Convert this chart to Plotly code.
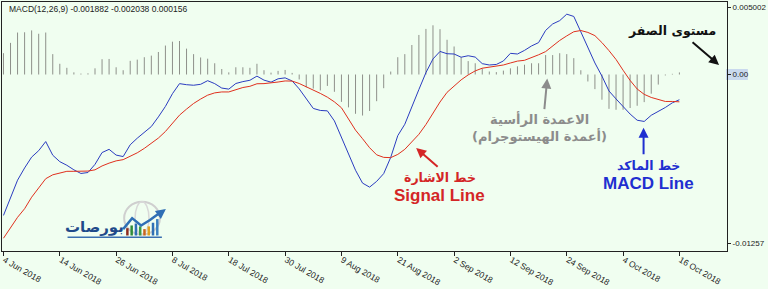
import numpy as np
import plotly.graph_objects as go

# ---- data (values in units of 1e-4) ----
hist_e4 = [15.9, 23.6, 31.3, 31.5, 32.9, 30.4, 31.3, 15.2, 8.0, 5.0,
           1.6, 0.7, 0.9, 4.6, 11.4, 11.6, 5.4, 3.2, 10.2, 11.1,
           12.9, 14.1, 16.8, 21.6, 24.5, 25.0, 19.3, 15.2, 12.7, 11.8,
           8.4, 4.1, 1.6, 5.4, 5.4, 5.0, 8.0, 3.2, 1.4, 2.7,
           3.4, 1.2, -3.7, -9.5, -10.5, -11.9, -8.5, -12.9, -20.4, -24.5,
           -29.3, -30.6, -27.2, -19.9, -10.2, 2.2, 12.9, 15.2, 22.0, 29.5,
           34.0, 36.7, 33.8, 25.9, 20.9, 12.9, 10.0, 8.4, 4.6, 2.2,
           1.8, 2.9, 4.6, 6.1, 7.3, 8.4, 8.4, 14.5, 14.5, 15.9,
           15.2, 12.2, 3.2, -5.2, -10.9, -18.8, -25.6, -26.3, -26.3, -25.0,
           -23.3, -20.6, -14.3, -7.5, -0.7, 0.5, 1.56]

macd_e4 = [-105.1, -91.5, -78.8, -69.7, -61.6, -56.8, -50.0, -60.2, -65.0, -67.7,
           -71.1, -73.8, -73.1, -67.0, -58.2, -55.8, -60.1, -61.2, -52.4, -47.5,
           -43.2, -38.8, -31.6, -23.8, -14.3, -6.8, -7.6, -8.0, -7.3, -4.6,
           -6.8, -10.1, -10.9, -6.7, -5.3, -4.3, -1.2, -4.2, -5.7, -3.2,
           -2.5, -4.8, -10.7, -18.2, -25.3, -26.8, -27.1, -34.6, -47.3, -59.9,
           -71.4, -81.0, -84.0, -79.7, -73.9, -61.8, -45.6, -37.1, -24.8, -11.2,
           1.4, 11.6, 17.2, 15.5, 15.3, 12.9, 14.0, 13.0, 8.1, 7.1,
           7.5, 10.1, 15.8, 15.3, 18.0, 21.3, 23.8, 32.9, 37.7, 40.2,
           45.0, 43.3, 31.8, 20.3, 8.6, -1.2, -12.3, -18.2, -23.7, -29.5,
           -34.1, -35.0, -30.4, -27.6, -24.6, -21.1, -18.82]

signal_e4 = [-122.1, -114.3, -106.5, -100.1, -91.5, -84.6, -77.7, -74.8, -73.5, -72.2,
             -72.2, -72.2, -72.0, -71.1, -68.2, -66.1, -64.4, -63.5, -60.9, -58.4,
             -55.1, -51.5, -47.4, -42.5, -36.8, -30.3, -25.8, -21.6, -18.3, -15.4,
             -13.7, -13.0, -13.0, -11.2, -9.7, -8.8, -6.9, -6.8, -6.4, -5.6,
             -4.8, -4.9, -6.7, -9.0, -11.9, -14.1, -16.9, -20.4, -24.8, -33.3,
             -41.5, -47.9, -54.6, -59.9, -61.8, -62.0, -59.6, -55.8, -50.4, -44.6,
             -37.3, -28.6, -20.5, -13.3, -8.4, -4.0, -0.3, 2.7, 4.7, 5.5,
             6.3, 7.1, 8.6, 10.0, 10.6, 12.4, 14.7, 17.1, 21.3, 25.4,
             28.8, 31.9, 32.8, 31.4, 29.0, 23.8, 17.8, 11.2, 3.2, -4.4,
             -10.8, -14.8, -17.1, -18.8, -20.1, -20.1, -20.38]

tick_labels = ["4 Jun 2018", "14 Jun 2018", "26 Jun 2018", "8 Jul 2018", "18 Jul 2018",
               "30 Jul 2018", "9 Aug 2018", "21 Aug 2018", "2 Sep 2018", "12 Sep 2018",
               "24 Sep 2018", "4 Oct 2018", "16 Oct 2018"]
tick_every = 8
y_ticks = [0.005002, 0.0, -0.01257]
y_tick_text = ["0.005002", "0.00", "-0.01257"]

bars = np.arange(len(hist_e4))
hist = np.array(hist_e4) * 1e-4
macd = np.array(macd_e4) * 1e-4
signal = np.array(signal_e4) * 1e-4

BG = "#f0fef0"
W, H = 768, 289
ML, MR, MT, MB = 1, 37, 1, 15
PW, PH = W - ML - MR, H - MT - MB


def pp(x, y):
    """page pixel -> paper coords"""
    return (x - ML) / PW, 1 - (y - MT) / PH


# histogram drawn as thin vertical sticks (MetaTrader style)
hx, hy = [], []
for i, v in zip(bars, hist):
    hx += [i, i, None]
    hy += [0.0, v, None]

fig = go.Figure()
fig.add_trace(go.Scatter(x=hx, y=hy, mode="lines", line=dict(color="#8e908a", width=1),
                         hoverinfo="skip", connectgaps=False))
fig.add_trace(go.Scatter(x=bars, y=macd, mode="lines", line=dict(color="#2b3cc0", width=1)))
fig.add_trace(go.Scatter(x=bars, y=signal, mode="lines", line=dict(color="#e0301e", width=1)))

fig.update_layout(
    width=W, height=H, margin=dict(l=ML, r=MR, t=MT, b=MB),
    paper_bgcolor=BG, plot_bgcolor=BG, showlegend=False,
    font=dict(family="Liberation Sans, Arial, sans-serif", size=8.5, color="#222"),
)
fig.update_xaxes(range=[-0.21, 102.76], showgrid=False, zeroline=False,
                 showline=True, mirror=True, linecolor="#222", linewidth=1,
                 tickvals=list(bars[::tick_every]), ticktext=tick_labels,
                 ticks="outside", ticklen=4, tickcolor="#222",
                 ticklabelposition="outside right", tickfont=dict(size=8.5))
fig.update_yaxes(range=[-0.013163, 0.005408], side="right", showgrid=False, zeroline=False,
                 showline=True, mirror=True, linecolor="#222", linewidth=1,
                 tickvals=y_ticks, ticktext=y_tick_text, ticks="outside", ticklen=3,
                 tickcolor="#222", tickfont=dict(size=8))

# highlight behind the 0.00 label
fig.add_shape(type="rect", xref="paper", yref="y", x0=pp(730, 0)[0], x1=pp(752, 0)[0],
              y0=-0.00041, y1=0.00041, fillcolor="#c9d9ee", line=dict(width=0), layer="below")

ann = []


def text(x, y, t, color, size, family="DejaVu Sans, sans-serif", anchor="center"):
    px, py = pp(x, y)
    ann.append(dict(x=px, y=py, xref="paper", yref="paper", text=t, showarrow=False,
                    xanchor=anchor, yanchor="middle",
                    font=dict(color=color, size=size, family=family)))


def arrow(hx_, hy_, tx, ty, color):
    px, py = pp(hx_, hy_)
    ann.append(dict(x=px, y=py, xref="paper", yref="paper", text="", showarrow=True,
                    ax=tx - hx_, ay=ty - hy_, arrowhead=2, arrowsize=1, arrowwidth=2,
                    arrowcolor=color))


text(6, 9, "MACD(12,26,9) -0.001882 -0.002038 0.000156", "#222", 8.5,
     "Liberation Sans, Arial, sans-serif", anchor="left")
text(676, 32, "<b>مستوى الصفر</b>", "#111", 12.5)
arrow(723, 70, 695, 46, "#111")
text(542, 129, "<b>الاعمدة الرأسية</b>", "#8c8c8c", 13)
text(542, 149, "<b>(أعمدة الهيستوجرام)</b>", "#8c8c8c", 13)
arrow(550, 85, 547, 117, "#8c8c8c")
text(442, 193, "<b>خط الاشارة</b>", "#d42626", 12.5)
text(442, 213, "<b>Signal Line</b>", "#d42626", 17, "Liberation Sans, Arial, sans-serif")
arrow(418, 161, 441, 181, "#d42626")
text(652, 180, "<b>خط الماكد</b>", "#1f2fd0", 12.5)
text(652, 200, "<b>MACD Line</b>", "#1f2fd0", 17, "Liberation Sans, Arial, sans-serif")
arrow(647, 139, 647, 167, "#1f2fd0")

# logo
text(94, 248, "<b>بورصات</b>", "#1f4a8a", 15)
shapes = []
cx0, cy0 = pp(124, 220)
cx1, cy1 = pp(160, 256)
shapes.append(dict(type="circle", xref="paper", yref="paper", x0=cx0, y0=cy1, x1=cx1, y1=cy0,
                   line=dict(color="#cfcfcf", width=2)))
ex0, _ = pp(135, 0)
ex1, _ = pp(149, 0)
shapes.append(dict(type="circle", xref="paper", yref="paper", x0=ex0, y0=cy1, x1=ex1, y1=cy0,
                   line=dict(color="#d8d8d8", width=1.5)))
bar_cols = ["#8e2b1e", "#2e8b3a", "#2f6fb5", "#3a9b45", "#c9641c", "#e0a020", "#2f6fb5", "#3a7fc0"]
bar_h = [8, 11, 13, 10, 7, 10, 14, 18]
for k, (c, h) in enumerate(zip(bar_cols, bar_h)):
    x0, y0 = pp(126 + 4.3 * k, 257)
    x1, y1 = pp(128.5 + 4.3 * k, 257 - h)
    shapes.append(dict(type="rect", xref="paper", yref="paper", x0=x0, x1=x1, y0=y0, y1=y1,
                       fillcolor=c, line=dict(width=0)))
path_pts = [(123, 250), (132, 238), (141, 246), (150, 240), (160, 232)]
path = "M " + " L ".join(f"{pp(a, b)[0]:.4f},{pp(a, b)[1]:.4f}" for a, b in path_pts)
shapes.append(dict(type="path", xref="paper", yref="paper", path=path,
                   line=dict(color="#2f6fb5", width=2.5)))
ux0, uy = pp(67, 259)
ux1, _ = pp(162, 259)
shapes.append(dict(type="line", xref="paper", yref="paper", x0=ux0, x1=ux1, y0=uy, y1=uy,
                   line=dict(color="#3a6fb0", width=1.5)))
arrow(166, 228, 158, 234, "#2f6fb5")

fig.update_layout(annotations=ann)
for s in shapes:
    fig.add_shape(**s)

fig.write_html("out.html")
